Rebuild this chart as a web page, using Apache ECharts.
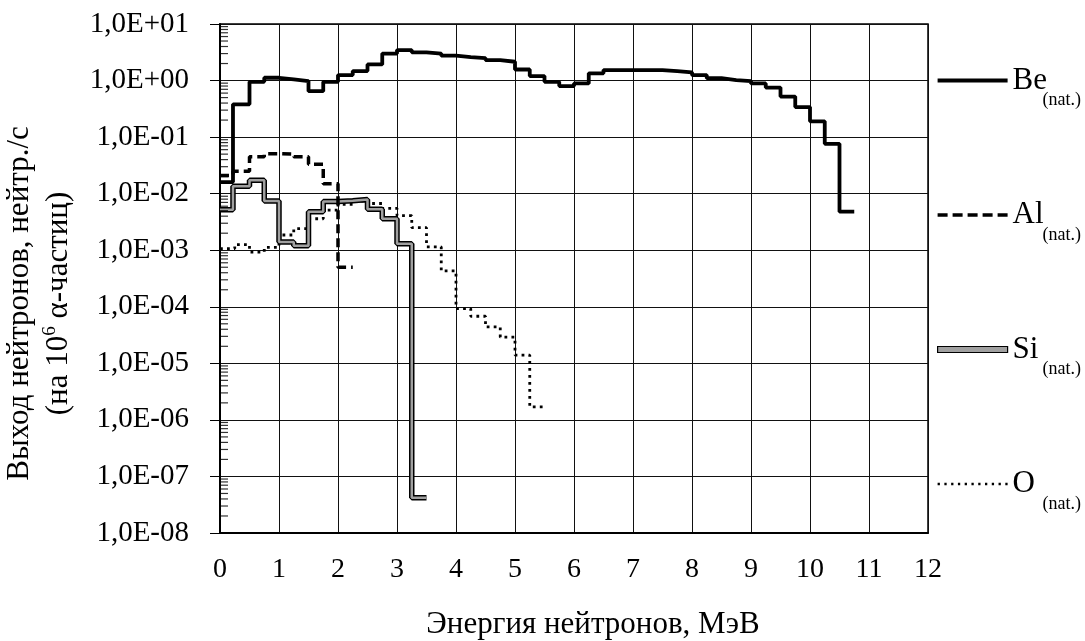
<!DOCTYPE html>
<html>
<head>
<meta charset="utf-8">
<script src="https://cdn.jsdelivr.net/npm/echarts@6/dist/echarts.min.js"></script>
<style>
    html, body { margin: 0; padding: 0; background: #fff; }
    #chart { width: 1085px; height: 641px; }
</style>
</head>
<body>
<div id="chart"></div>
<script>
    // bin edges (MeV) and yields per bin
    const beEnergy = [0, 0.22, 0.5, 0.75, 1, 1.25, 1.5, 1.75, 2, 2.25, 2.5, 2.75, 3, 3.25, 3.5, 3.75, 4, 4.25,
        4.5, 4.75, 5, 5.25, 5.5, 5.75, 6, 6.25, 6.5, 6.75, 7, 7.25, 7.5, 7.75, 8, 8.25, 8.5, 8.75, 9, 9.25, 9.5,
        9.75, 10, 10.25, 10.5, 10.75]
    const beValue = [0.016, 0.38, 0.95, 1.12, 1.05, 0.98, 0.65, 0.95, 1.25, 1.47, 1.93, 3.0, 3.46, 3.16, 3.0,
        2.75, 2.6, 2.5, 2.3, 2.15, 1.57, 1.2, 0.95, 0.8, 0.89, 1.34, 1.53, 1.53, 1.53, 1.53, 1.47, 1.4, 1.25,
        1.1, 1.02, 0.98, 0.89, 0.75, 0.52, 0.34, 0.19, 0.076, 0.0048]

    const alEnergy = [0, 0.22, 0.5, 0.75, 1, 1.25, 1.5, 1.75, 2, 2.25]
    const alValue = [0.021, 0.025, 0.045, 0.051, 0.05, 0.045, 0.033, 0.015, 0.0005]

    const siEnergy = [0, 0.22, 0.5, 0.75, 1, 1.25, 1.5, 1.75, 2, 2.25, 2.5, 2.75, 3, 3.25, 3.5]
    const siValue = [0.0052, 0.0135, 0.0173, 0.0074, 0.0014, 0.0012, 0.0048, 0.0073, 0.0075, 0.0079, 0.0053,
        0.0036, 0.0013, 4.2e-8]

    const oEnergy = [0, 0.25, 0.5, 0.75, 1, 1.25, 1.5, 1.75, 2, 2.25, 2.5, 2.75, 3, 3.25, 3.5, 3.75, 4, 4.25,
        4.5, 4.75, 5, 5.25, 5.5]
    const oValue = [0.00107, 0.00126, 0.00093, 0.00112, 0.00186, 0.0024, 0.0036, 0.0051, 0.0065, 0.0074, 0.0067,
        0.0055, 0.0041, 0.0025, 0.00115, 0.00043, 9.3e-5, 6.8e-5, 4.4e-5, 2.9e-5, 1.4e-5, 1.7e-6]

    const legendNames = ['Be', 'Al', 'Si', 'O']
    const subLabel = '(nat.)'

    // log minor ticks 2..9 in each decade
    const minorTicks = []
    for (let p = -8; p <= 0; p++) {
        for (let m = 2; m <= 9; m++) minorTicks.push(m * Math.pow(10, p))
    }

    const font = "'Liberation Serif', 'Times New Roman', serif"

    function steps(edges, values) {
        return edges.map((e, i) => [e, values[Math.min(i, values.length - 1)]])
    }

    function dots(n, gap, size) {
        let d = ''
        for (let i = 0; i < n; i++) d += 'M' + (i * gap) + ',0h' + size + 'v' + size + 'h-' + size + 'z'
        return 'path://' + d
    }

    const icons = {
        Be: 'path://M0,0H70V4H0Z',
        Al: 'path://M0,0h10v3.5h-10zM15,0h10v3.5h-10zM30,0h10v3.5h-10zM45,0h10v3.5h-10zM60,0h10v3.5h-10z',
        Si: 'path://M0,0H70V6H0Z',
        O: dots(11, 6.5, 2.2)
    }

    let myChart = echarts.init(document.getElementById('chart'))
    myChart.setOption({
        animation: false,
        backgroundColor: '#fff',
        grid: {
            left: 220,
            right: 157,
            top: 24,
            bottom: 108,
            outerBoundsMode: 'none',
            containLabel: false,
            show: true,
            borderColor: '#000',
            borderWidth: 1.5
        },
        xAxis: {
            type: 'value',
            min: 0,
            max: 12,
            interval: 1,
            name: 'Энергия нейтронов, МэВ',
            nameLocation: 'middle',
            nameGap: 76,
            nameTextStyle: {fontFamily: font, fontSize: 31, color: '#000', padding: [0, 0, 0, 38]},
            axisLine: {lineStyle: {color: '#000', width: 2}},
            axisTick: {show: false},
            axisLabel: {fontFamily: font, fontSize: 28, color: '#000', margin: 23},
            splitLine: {show: true, lineStyle: {color: '#111', width: 1}}
        },
        yAxis: {
            type: 'log',
            logBase: 10,
            min: 1e-8,
            max: 10,
            interval: 1,
            name: 'Выход нейтронов, нейтр./с\n(на 10{sup|6} α-частиц)',
            nameLocation: 'middle',
            nameGap: 138,
            nameTextStyle: {
                fontFamily: font, fontSize: 31, lineHeight: 39, color: '#000', padding: [0, 50, 0, 0],
                rich: {sup: {fontFamily: font, fontSize: 19, lineHeight: 19, color: '#000', padding: [0, 0, 18, 0]}}
            },
            axisLine: {show: true, lineStyle: {color: '#000', width: 2}},
            axisTick: {show: true, inside: false, length: 10, lineStyle: {color: '#000', width: 1}},
            axisLabel: {
                fontFamily: font, fontSize: 29, color: '#000', margin: 31,
                formatter: function (v) {
                    let p = Math.round(Math.log10(v))
                    return '1,0E' + (p < 0 ? '-' : '+') + String(Math.abs(p)).padStart(2, '0')
                }
            },
            splitLine: {show: true, lineStyle: {color: '#111', width: 1}}
        },
        legend: {
            orient: 'vertical',
            left: 937,
            top: 65,
            padding: 0,
            itemGap: 90,
            itemWidth: 70,
            itemHeight: 20,
            selectedMode: false,
            data: legendNames.map(n => ({
                name: n,
                icon: icons[n],
                itemStyle: n === 'Si'
                    ? {color: '#a0a0a0', borderColor: '#000', borderWidth: 1.2}
                    : {color: '#000', borderWidth: 0}
            })),
            formatter: n => '{b|' + n + '}{s|' + subLabel + '}',
            textStyle: {
                fontFamily: font,
                color: '#000',
                rich: {
                    b: {fontFamily: font, fontSize: 31, lineHeight: 30, width: 30, verticalAlign: 'middle', color: '#000'},
                    s: {fontFamily: font, fontSize: 18, lineHeight: 17, padding: [26, 0, 0, 0], verticalAlign: 'top', color: '#000'}
                }
            }
        },
        series: [
            {
                name: 'O',
                type: 'line',
                step: 'end',
                symbol: 'none',
                data: steps(oEnergy, oValue),
                itemStyle: {color: '#000'},
                lineStyle: {color: '#000', width: 2.8, type: [2.8, 4.2], cap: 'butt'},
                z: 2
            },
            {
                name: 'Si',
                type: 'line',
                step: 'end',
                symbol: 'none',
                data: steps(siEnergy, siValue),
                itemStyle: {color: '#000'},
                lineStyle: {color: '#000', width: 5.5},
                z: 3
            },
            {
                name: 'Si',
                type: 'line',
                step: 'end',
                symbol: 'none',
                data: steps(siEnergy, siValue),
                itemStyle: {color: '#a0a0a0'},
                lineStyle: {color: '#a0a0a0', width: 2.5},
                z: 4
            },
            {
                name: 'Al',
                type: 'line',
                step: 'end',
                symbol: 'none',
                data: steps(alEnergy, alValue),
                itemStyle: {color: '#000'},
                lineStyle: {color: '#000', width: 3.5, type: [9, 5]},
                z: 5
            },
            {
                name: 'Be',
                type: 'line',
                step: 'end',
                symbol: 'none',
                data: steps(beEnergy, beValue),
                itemStyle: {color: '#000'},
                lineStyle: {color: '#000', width: 3.8},
                z: 6
            },
            {
                name: 'minor',
                type: 'scatter',
                symbol: 'rect',
                symbolSize: [8, 1.2],
                symbolOffset: [4, 0],
                clip: false,
                silent: true,
                data: minorTicks.map(v => [0, v]),
                itemStyle: {color: '#000'},
                z: 7
            }
        ]
    })
</script>
</body>
</html>
